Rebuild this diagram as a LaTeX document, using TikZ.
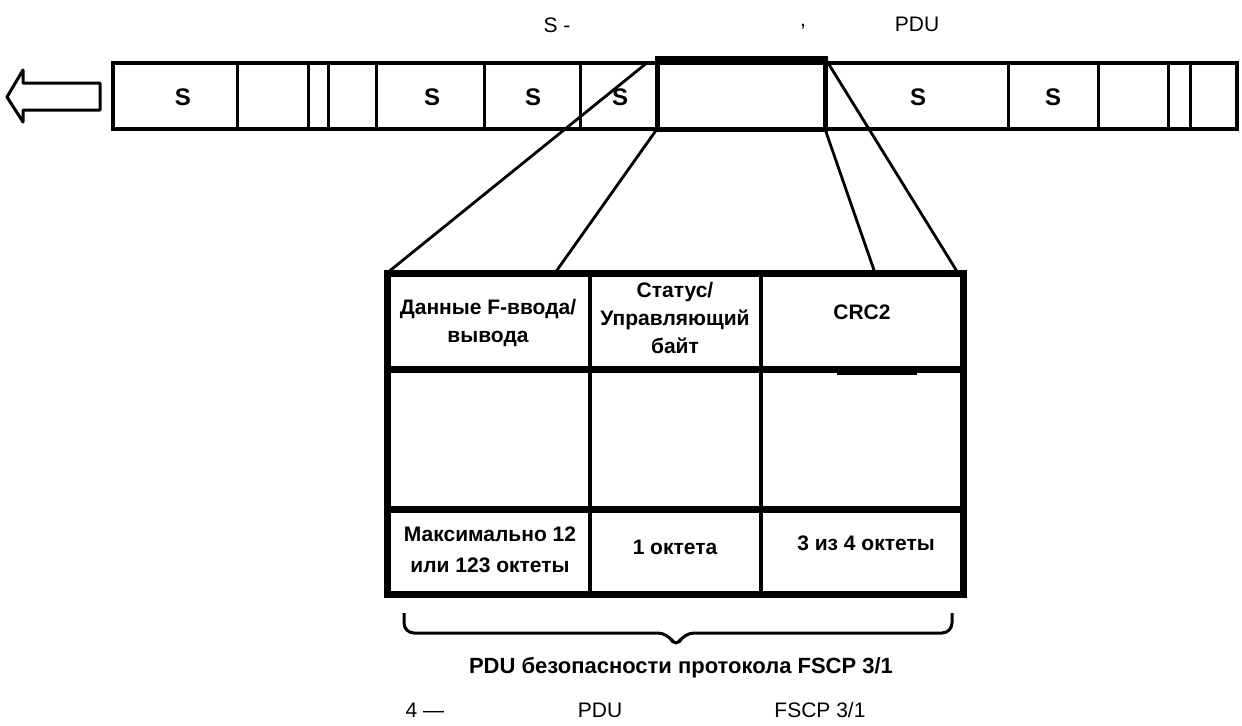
\documentclass[tikz,border=0pt]{standalone}
\usepackage{fontspec}
\setmainfont{Liberation Sans}

\begin{document}
\begin{tikzpicture}[x=0.5pt,y=-0.5pt,
    lbl/.style={font=\fontsize{10.5}{12}\selectfont},
    cell/.style={font=\bfseries\fontsize{12}{14}\selectfont},
    entry/.style={font=\bfseries\fontsize{10.5}{14}\selectfont,align=center},
    conn/.style={line width=1.4pt}]
    \useasboundingbox (0,0) rectangle (1242,725);

    \node[lbl] (t1) at (557,25) {S -};
    \node[lbl] (t2) at (803,27) {,};
    \node[lbl] (t3) at (917,24) {PDU};

    % direction arrow
    \draw[line width=1.5pt,line join=round] (100,83) -- (23,83) -- (23,70) -- (7,97)
        -- (23,122) -- (23,110) -- (100,110) -- cycle;

    % frame sequence
    \draw[line width=2pt] (113,63) rectangle (1237,129);
    \foreach \x in {237,308,328,376,484,580,1008,1098,1168,1190}
        \draw[line width=1.5pt] (\x,63) -- (\x,129);
    \foreach \x/\n in {183/1,432/2,533/3,620/4,918/5,1053/6}
        \node[cell] (s\n) at (\x,97) {S};
    \draw[line width=2.5pt] (657,58) rectangle (825,129);

    \coordinate (p1) at (648,62);
    \coordinate (p2) at (657,129);
    \coordinate (p3) at (825,129);
    \coordinate (p4) at (825,58);
    \coordinate (q1) at (387,273);
    \coordinate (q2) at (555,273);
    \coordinate (q3) at (875,273);
    \coordinate (q4) at (958,273);

    % safety PDU
    \draw[line width=3.5pt] (387,273) rectangle (963,594);
    \draw[line width=3.5pt] (387,369) -- (963,369) (387,509) -- (963,509);
    \draw[line width=2pt] (590,273) -- (590,594) (761,273) -- (761,594);
    \draw[line width=2pt] (837,373) -- (917,373);

    \draw[conn] (p1) -- (q1);
    \draw[conn] (p2) -- (q2);
    \draw[conn] (p3) -- (q3);
    \draw[conn] (p4) -- (q4);

    \node[entry] (d1) at (488,323) {Данные F-ввода/\\вывода};
    \node[entry] (d2) at (675,318) {Статус/\\Управляющий\\байт};
    \node[entry] (d3) at (862,312) {CRC2};
    \node[entry,font=\bfseries\fontsize{10.5}{15.5}\selectfont] (o1) at (490,550) {Максимально 12\\или 123 октеты};
    \node[entry] (o2) at (675,547) {1 октета};
    \node[entry] (o3) at (866,543) {3 из 4 октеты};

    % brace
    \draw[line width=1.5pt,rounded corners=5pt] (404,613) -- (404,633) -- (668,633)
        -- (676,648) -- (684,633) -- (952,633) -- (952,613);
    \node[font=\bfseries\fontsize{11}{13}\selectfont] (pdu) at (681,668)
        {PDU безопасности протокола FSCP 3/1};

    \node[lbl] (c1) at (425,710) {4 —};
    \node[lbl] (c2) at (600,710) {PDU};
    \node[lbl] (c3) at (820,710) {FSCP 3/1};
\end{tikzpicture}
\end{document}
